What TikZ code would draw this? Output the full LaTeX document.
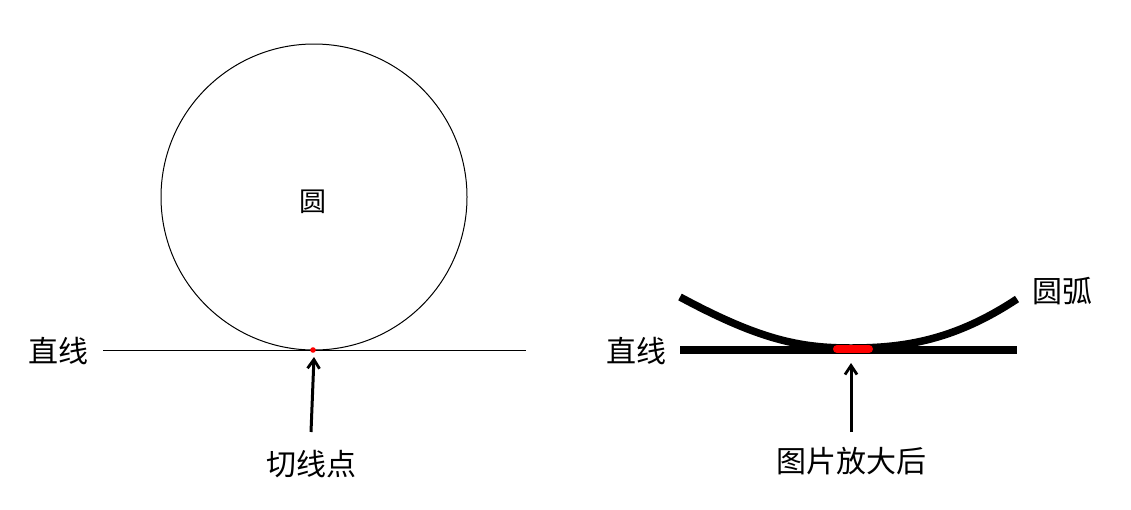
\documentclass[tikz,border=0pt]{standalone}
\usepackage{fontspec}
\newfontfamily\cjk{Noto Sans CJK SC}
\usetikzlibrary{arrows.meta}
\begin{document}
\begin{tikzpicture}[x=1pt,y=-1pt,
  lbl/.style={font=\cjk\fontsize{30}{33}\selectfont, inner sep=0pt, anchor=center},
  arr/.style={line width=3pt, -{Straight Barb[length=9pt,width=12pt,line width=2.8pt]}},
  thick line/.style={line width=7.5pt}]
\useasboundingbox[fill=white] (0,0) rectangle (1131,509);
% left part
\draw[line width=1pt] (314,197) circle[radius=153];
\draw[line width=1pt] (103,350) coordinate (l1) -- (526,350) coordinate (l2);
\fill[red] (313,350) circle[radius=2.8];
\coordinate (tp) at (314,357);
\node[lbl] (yuan) at (313,202) {\fontsize{27}{29}\selectfont 圆};
\node[lbl] (zx1) at (58,351) {直线};
\node[lbl] (qxd) at (311,464) {切线点};
\draw[arr] (311,432) -- (tp);
% right part
\draw[thick line] (680,350) -- (1017,350);
\draw[thick line] (680,297) .. controls (760,340) and (800,348) .. (851,348)
  .. controls (905,348) and (955,340) .. (1017,299);
\draw[red, line width=8pt, line cap=round] (837,349) -- (869,349);
\coordinate (tp2) at (851,363);
\node[lbl] (zx2) at (636,351) {直线};
\node[lbl] (yh) at (1062,291) {圆弧};
\node[lbl] (fd) at (851,461) {图片放大后};
\draw[arr] (851,432) -- (tp2);
\end{tikzpicture}
\end{document}
